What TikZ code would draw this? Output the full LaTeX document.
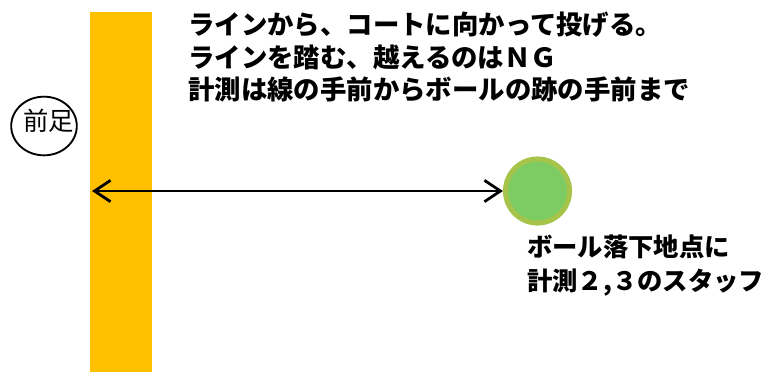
\documentclass[tikz,border=0pt]{standalone}
\usepackage{fontspec}
\newfontfamily\jp{Noto Sans CJK JP}
\usetikzlibrary{arrows.meta,shapes.geometric}
\definecolor{barorange}{HTML}{FFC000}
\definecolor{ballgreen}{HTML}{7DCC63}
\definecolor{ballrim}{HTML}{A6C34A}
\tikzset{
  bartext/.style={anchor=north west, inner sep=0pt, align=left, font=\jp\bfseries\fontsize{19.8pt}{24.6pt}\selectfont},
  measure/.style={line width=2.1pt, {Straight Barb[length=12pt,width=16pt,line width=2.1pt]}-{Straight Barb[length=12pt,width=16pt,line width=2.1pt]}}
}
\begin{document}
\begin{tikzpicture}[x=0.75pt,y=-0.75pt]
\useasboundingbox (0,0) rectangle (770,372);
\node[draw=none, fill=barorange, minimum width=46.5pt, minimum height=270pt, inner sep=0pt, anchor=north west] (bar) at (90,12) {};
\coordinate (foot) at (44,126);
\draw[line width=1.4pt] (foot) ellipse [x radius=24.6pt, y radius=22pt];
\node[inner sep=0pt, font=\jp\fontsize{19pt}{19pt}\selectfont] (footlabel) at (48.5,121) {前足};
\node[circle, fill=ballgreen, draw=ballrim, line width=3.8pt, minimum size=48pt, inner sep=0pt] (ball) at (537.5,191) {};
\draw[measure] ([xshift=1.5pt]bar.west |- ball.west) -- (ball.west);
\node[bartext] (title) at (188,11.5) {ラインから、コートに向かって投げる。\\ラインを踏む、越えるのはＮＧ\\計測は線の手前からボールの跡の手前まで};
\node[bartext, font=\jp\bfseries\fontsize{19pt}{24.8pt}\selectfont] (staff) at (527,235) {ボール落下地点に\\計測２,３のスタッフ};
\end{tikzpicture}
\end{document}
